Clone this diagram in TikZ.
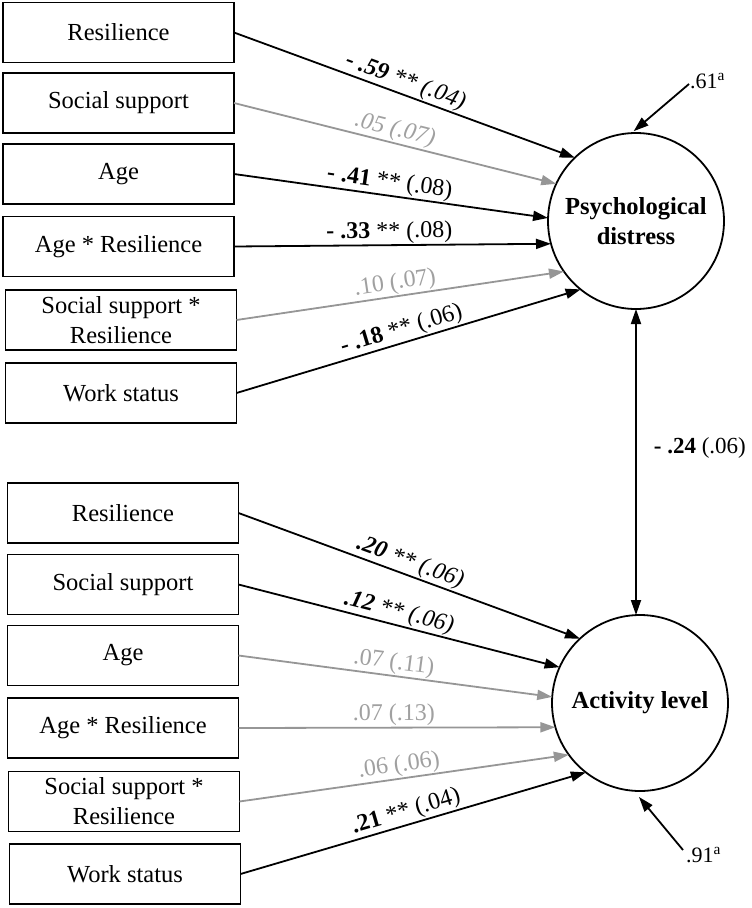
\documentclass[tikz,border=0pt]{standalone}
\usepackage{fontspec}
\setmainfont{Liberation Serif}
\usetikzlibrary{arrows.meta}
\definecolor{grayline}{RGB}{150,150,150}
\definecolor{graytext}{RGB}{160,160,160}
\tikzset{
  box/.style={draw, line width=1.8pt, rectangle, minimum width=231pt, minimum height=60pt,
    inner sep=0pt, outer sep=0pt, align=center, font=\fontsize{24.5}{30}\selectfont},
  latent/.style={draw, circle, line width=1.8pt, minimum size=176pt, inner sep=0pt,
    outer sep=0pt, align=center, font=\fontsize{24.5}{30}\selectfont\bfseries},
  tip/.style={-{Triangle[length=15pt,width=10pt]}},
  blk/.style={line width=1.8pt, tip},
  gry/.style={line width=1.8pt, draw=grayline, tip},
  lab/.style={sloped, above, pos=0.49, inner sep=1pt, font=\fontsize{24}{24}\selectfont},
  glab/.style={lab, text=graytext},
  resid/.style={anchor=base west, inner sep=0pt, font=\fontsize{22}{22}\selectfont},
}
\begin{document}
\begin{tikzpicture}[x=1pt, y=-1pt]
\useasboundingbox (0,0) rectangle (752,908);
% top block
\node[box] (r1) at (118.5,32.5) {Resilience};
\node[box] (r2) at (118.5,103) {Social support};
\node[box] (r3) at (118.5,174) {Age};
\node[box] (r4) at (118.5,246.5) {Age * Resilience};
\node[box] (r5) at (121,320) {Social support *\\Resilience};
\node[box] (r6) at (121,393) {Work status};
\node[latent] (psy) at (636,221) {Psychological\\distress};
% bottom block
\node[box] (b1) at (123,513) {Resilience};
\node[box] (b2) at (123,584.5) {Social support};
\node[box] (b3) at (123,655.5) {Age};
\node[box] (b4) at (123,728) {Age * Resilience};
\node[box] (b5) at (124,801.5) {Social support *\\Resilience};
\node[box] (b6) at (125,874) {Work status};
\node[latent] (act) at (640,703) {Activity level};
% top paths
\draw[blk] (r1.east) -- node[lab]{\itshape{\bfseries - .59} ** (.04)} (psy.134);
\draw[gry] (r2.east) -- node[glab]{\itshape .05 (.07)} (psy.155.8);
\draw[blk] (r3.east) -- node[lab]{\textbf{- .41} ** (.08)} (psy.178);
\draw[blk] (r4.east) -- node[lab]{\textbf{- .33} ** (.08)} (psy.195.4);
\draw[gry] (r5.east) -- node[glab]{.10 (.07)} (psy.215.8);
\draw[blk] (r6.east) -- node[lab]{\textbf{- .18} ** (.06)} (psy.231.7);
% bottom paths
\draw[blk] (b1.east) -- node[lab]{\itshape{\bfseries .20} ** (.06)} (act.133.6);
\draw[blk] (b2.east) -- node[lab]{\itshape{\bfseries .12} ** (.06)} (act.156);
\draw[gry] (b3.east) -- node[glab]{.07 (.11)} (act.176.8);
\draw[gry] (b4.east) -- node[glab]{.07 (.13)} (act.196);
\draw[gry] (b5.east) -- node[glab]{.06 (.06)} (act.216);
\draw[blk] (b6.east) -- node[lab]{\textbf{.21} ** (.04)} (act.232);
% covariance
\draw[line width=1.8pt, {Triangle[length=15pt,width=10pt]}-{Triangle[length=15pt,width=10pt]}]
  (psy.south) -- node[pos=0.453, right=17pt, inner sep=0pt, font=\fontsize{23}{23}\selectfont]{\textbf{- .24} (.06)}
  (psy.south |- act.north);
% residuals
\node[resid] (t61) at (690,88) {.61\textsuperscript{a}};
\coordinate (s61) at (689,84);
\draw[blk, shorten >=3pt] (s61) -- (psy.93);
\node[resid] (t91) at (686,862) {.91\textsuperscript{a}};
\coordinate (s91) at (683,850);
\draw[blk, shorten >=8pt] (s91) -- (act.266);
\end{tikzpicture}
\end{document}
